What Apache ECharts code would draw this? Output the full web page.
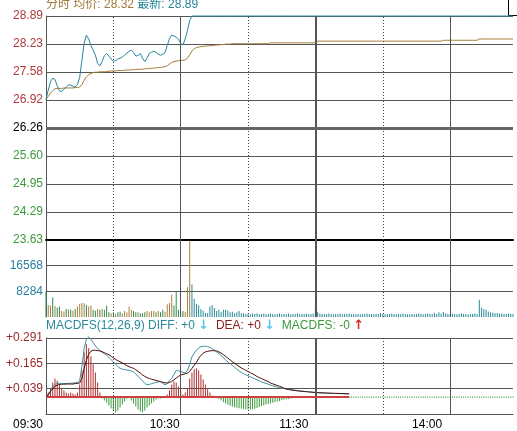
<!DOCTYPE html>
<html>
<head>
<meta charset="utf-8">
<title>分时</title>
<script src="https://cdn.jsdelivr.net/npm/echarts@6/dist/echarts.min.js"></script>
<style>
  html, body { margin: 0; padding: 0; background: #fff; }
  #chart { width: 517px; height: 431px; }
</style>
</head>
<body>
<div id="chart"></div>
<script>
// 纵轴刻度文字
const priceTicks = ['23.63', '24.29', '24.95', '25.60', '26.26', '26.92', '27.58', '28.23', '28.89']
const volTicks = ['', '8284', '16568', '']
const macdTicks = ['', '+0.039', '+0.165', '+0.291']
const timeTicks = ['09:30', '10:30', '11:30', '14:00']
const headAvg = '28.32'
const headLast = '28.89'

// 分时价格 (每分钟)
const priceVals = [
  26.93, 27.15, 27.35, 27.43, 27.40, 27.25, 27.13, 27.12, 27.17, 27.22,
  27.27, 27.27, 27.24, 27.22, 27.28, 27.45, 27.85, 28.25, 28.44, 28.35,
  28.20, 28.09, 27.97, 27.78, 27.72, 27.82, 27.96, 28.01, 27.95, 27.88,
  27.83, 27.84, 27.88, 27.90, 27.93, 27.97, 28.02, 28.06, 28.09, 28.03,
  27.95, 27.96, 28.01, 27.90, 27.82, 27.90, 28.01, 28.04, 28.06, 28.04,
  27.99, 27.97, 27.99, 28.03, 28.20, 28.36, 28.44, 28.42, 28.39, 28.35,
  28.24, 28.21, 28.35, 28.55, 28.78, 28.89, 28.89, 28.89, 28.89, 28.89,
  28.89, 28.89, 28.89, 28.89, 28.89, 28.89, 28.89, 28.89, 28.89, 28.89,
  28.89, 28.89, 28.89, 28.89, 28.89, 28.89, 28.89, 28.89, 28.89, 28.89,
  28.89, 28.89, 28.89, 28.89, 28.89, 28.89, 28.89, 28.89, 28.89, 28.89,
  28.89, 28.89, 28.89, 28.89, 28.89, 28.89, 28.89, 28.89, 28.89, 28.89,
  28.89, 28.89, 28.89, 28.89, 28.89, 28.89, 28.89, 28.89, 28.89, 28.89,
  28.89, 28.89, 28.89, 28.89, 28.89, 28.89, 28.89, 28.89, 28.89, 28.89,
  28.89, 28.89, 28.89, 28.89, 28.89, 28.89, 28.89, 28.89, 28.89, 28.89,
  28.89, 28.89, 28.89, 28.89, 28.89, 28.89, 28.89, 28.89, 28.89, 28.89,
  28.89, 28.89, 28.89, 28.89, 28.89, 28.89, 28.89, 28.89, 28.89, 28.89,
  28.89, 28.89, 28.89, 28.89, 28.89, 28.89, 28.89, 28.89, 28.89, 28.89,
  28.89, 28.89, 28.89, 28.89, 28.89, 28.89, 28.89, 28.89, 28.89, 28.89,
  28.89, 28.89, 28.89, 28.89, 28.89, 28.89, 28.89, 28.89, 28.89, 28.89,
  28.89, 28.89, 28.89, 28.89, 28.89, 28.89, 28.89, 28.89, 28.89, 28.89,
  28.89, 28.89, 28.89, 28.89, 28.89, 28.89, 28.89, 28.89, 28.89
]

// 均价
const avgVals = [
  26.93, 27.00, 27.08, 27.14, 27.18, 27.19, 27.19, 27.19, 27.20, 27.20,
  27.20, 27.20, 27.20, 27.21, 27.21, 27.22, 27.28, 27.38, 27.46, 27.51,
  27.54, 27.56, 27.57, 27.57, 27.58, 27.58, 27.58, 27.59, 27.59, 27.60,
  27.60, 27.60, 27.61, 27.61, 27.61, 27.62, 27.62, 27.62, 27.63, 27.63,
  27.63, 27.64, 27.64, 27.64, 27.65, 27.65, 27.66, 27.66, 27.67, 27.67,
  27.68, 27.68, 27.69, 27.70, 27.72, 27.76, 27.80, 27.82, 27.83, 27.84,
  27.85, 27.85, 27.86, 27.90, 27.98, 28.07, 28.12, 28.15, 28.16, 28.17,
  28.18, 28.18, 28.19, 28.19, 28.20, 28.20, 28.21, 28.21, 28.22, 28.22,
  28.23, 28.23, 28.23, 28.24, 28.24, 28.24, 28.24, 28.24, 28.24, 28.24,
  28.24, 28.24, 28.24, 28.24, 28.24, 28.24, 28.24, 28.24, 28.24, 28.24,
  28.26, 28.26, 28.26, 28.26, 28.26, 28.26, 28.26, 28.26, 28.26, 28.26,
  28.26, 28.26, 28.26, 28.26, 28.26, 28.26, 28.26, 28.26, 28.26, 28.26,
  28.26, 28.30, 28.30, 28.30, 28.30, 28.30, 28.30, 28.30, 28.30, 28.30,
  28.30, 28.30, 28.30, 28.30, 28.30, 28.30, 28.30, 28.30, 28.30, 28.30,
  28.30, 28.30, 28.30, 28.30, 28.30, 28.30, 28.30, 28.30, 28.30, 28.30,
  28.30, 28.30, 28.30, 28.30, 28.30, 28.30, 28.30, 28.30, 28.30, 28.30,
  28.30, 28.30, 28.30, 28.30, 28.30, 28.30, 28.30, 28.30, 28.30, 28.30,
  28.30, 28.30, 28.30, 28.30, 28.30, 28.30, 28.30, 28.32, 28.32, 28.32,
  28.32, 28.32, 28.32, 28.32, 28.32, 28.32, 28.32, 28.32, 28.32, 28.32,
  28.32, 28.32, 28.32, 28.35, 28.35, 28.35, 28.35, 28.35, 28.35, 28.35,
  28.35, 28.35, 28.35, 28.35, 28.35, 28.35, 28.35, 28.35, 28.35
]

// 成交量
const volVals = [
  8300, 3900, 3700, 6300, 3600, 3000, 3400, 2000, 1800, 2600,
  2400, 2300, 2000, 2600, 3400, 4200, 4500, 4400, 3900, 3400,
  3700, 2300, 2000, 2600, 2300, 2600, 2300, 3600, 1500, 1200,
  1500, 1000, 1500, 1700, 1200, 1900, 1500, 3400, 2300, 1900,
  1500, 1500, 1200, 1200, 1500, 1900, 1500, 1900, 1900, 1500,
  1900, 1500, 2300, 1700, 4150, 4480, 7200, 3700, 8300, 2300,
  1500, 1900, 1700, 9600, 24650, 10500, 5900, 4300, 3800, 2600,
  2000, 1300, 1300, 3400, 3800, 2900, 1900, 2300, 1500, 2300,
  2300, 2100, 1500, 1700, 1200, 1500, 1900, 1200, 1200, 1000,
  1100, 900, 1100, 1000, 1200, 900, 1000, 1100, 900, 1000,
  1100, 1000, 900, 1000, 1100, 900, 1000, 1000, 1100, 900,
  1000, 1000, 1100, 900, 1000, 1000, 1100, 900, 1000, 1100,
  5000, 1700, 1100, 1000, 900, 1000, 1100, 1000, 900, 1000,
  1000, 1100, 900, 1000, 1000, 1100, 1000, 900, 1000, 1000,
  900, 1000, 1000, 1100, 1000, 1000, 900, 1000, 1000, 1300,
  1000, 900, 1000, 1000, 1100, 1000, 900, 1000, 1000, 1100,
  1000, 900, 1000, 1000, 900, 1000, 1100, 1000, 900, 1000,
  1100, 1000, 1000, 1400, 1000, 1500, 1100, 1600, 1200, 1000,
  1000, 1100, 1000, 900, 1000, 1100, 1000, 1000, 900, 1000,
  1000, 1100, 1000, 5570, 3000, 2500, 2300, 1800, 1500, 1400,
  1200, 1300, 1100, 1100, 1000, 1000, 1100, 1000, 1000
]
// 涨(u) 跌(d) 平/涨停(f)
const volDir = ('duududduud' + 'ududuuuudu' + 'uddududddu' + 'dudduuuuud' +
  'duddduuuud' + 'udduuuuddd' + 'uduuu').padEnd(volVals.length, 'f')

// MACD 柱
const macdVals = [
  0, 0.02, 0.04, 0.07, 0.09, 0.08, 0.06, 0.04, 0.03, 0.02,
  0.015, 0.02, 0.015, 0.01, 0.02, 0.06, 0.13, 0.22, 0.26, 0.24,
  0.20, 0.16, 0.12, 0.07, 0.02, -0.01, -0.02, -0.03, -0.045, -0.06,
  -0.07, -0.078, -0.07, -0.055, -0.04, -0.025, -0.01, -0.005, -0.02, -0.035,
  -0.05, -0.065, -0.075, -0.078, -0.07, -0.055, -0.045, -0.035, -0.025, -0.015,
  -0.01, -0.01, -0.008, -0.005, 0.01, 0.03, 0.06, 0.075, 0.07, 0.05,
  0.03, 0.01, 0.02, 0.04, 0.09, 0.12, 0.135, 0.14, 0.13, 0.11,
  0.085, 0.06, 0.04, 0.02, 0.005, -0.003, -0.004, -0.012, -0.02, -0.028,
  -0.035, -0.041, -0.046, -0.05, -0.053, -0.056, -0.058, -0.061, -0.063, -0.065,
  -0.065, -0.065, -0.064, -0.061, -0.057, -0.052, -0.047, -0.043, -0.04, -0.037,
  -0.034, -0.031, -0.028, -0.025, -0.022, -0.019, -0.016, -0.014, -0.012, -0.01,
  -0.008, -0.006, -0.005, -0.004, -0.006, -0.006, -0.006, -0.006, -0.006, -0.006,
  -0.006, -0.006, -0.006, -0.006, -0.006, -0.006, -0.006, -0.006, -0.006, -0.006,
  -0.006, -0.006, -0.006, -0.006, -0.006, -0.006, -0.006, -0.006, -0.006, -0.006,
  -0.006, -0.006, -0.006, -0.006, -0.006, -0.006, -0.006, -0.006, -0.006, -0.006,
  -0.006, -0.006, -0.006, -0.006, -0.006, -0.006, -0.006, -0.006, -0.006, -0.006,
  -0.006, -0.006, -0.006, -0.006, -0.006, -0.006, -0.006, -0.006, -0.006, -0.006,
  -0.006, -0.006, -0.006, -0.006, -0.006, -0.006, -0.006, -0.006, -0.006, -0.006,
  -0.006, -0.006, -0.006, -0.006, -0.006, -0.006, -0.006, -0.006, -0.006, -0.006,
  -0.006, -0.006, -0.006, -0.006, -0.006, -0.006, -0.006, -0.006, -0.006, -0.006,
  -0.006, -0.006, -0.006, -0.006, -0.006, -0.006, -0.006, -0.006, -0.006
]

// DIFF
const diffVals = [
  0.000, 0.009, 0.030, 0.050, 0.060, 0.066, 0.066, 0.064, 0.063, 0.064,
  0.065, 0.066, 0.067, 0.068, 0.070, 0.078, 0.150, 0.240, 0.285, 0.296,
  0.285, 0.268, 0.252, 0.238, 0.228, 0.220, 0.212, 0.205, 0.195, 0.183,
  0.172, 0.160, 0.149, 0.140, 0.136, 0.134, 0.132, 0.130, 0.127, 0.123,
  0.112, 0.100, 0.090, 0.078, 0.066, 0.058, 0.060, 0.064, 0.067, 0.070,
  0.073, 0.074, 0.066, 0.058, 0.065, 0.080, 0.090, 0.110, 0.130, 0.128,
  0.124, 0.120, 0.116, 0.130, 0.160, 0.197, 0.215, 0.230, 0.242, 0.248,
  0.250, 0.250, 0.248, 0.244, 0.238, 0.230, 0.222, 0.214, 0.204, 0.193,
  0.182, 0.172, 0.163, 0.154, 0.145, 0.136, 0.127, 0.120, 0.114, 0.108,
  0.103, 0.098, 0.093, 0.088, 0.083, 0.078, 0.073, 0.069, 0.065, 0.061,
  0.057, 0.053, 0.050, 0.047, 0.045, 0.042, 0.040, 0.038, 0.036, 0.034,
  0.033, 0.031, 0.030, 0.028, 0.027, 0.025, 0.024, 0.023, 0.022, 0.021,
  0.020, 0.019, 0.018, 0.018, 0.017, 0.017, 0.016, 0.016, 0.015, 0.015,
  0.015, 0.014, 0.014, 0.014, 0.013, 0.013
]

// DEA
const deaVals = [
  0.000, 0.009, 0.025, 0.040, 0.050, 0.057, 0.060, 0.061, 0.062, 0.062,
  0.062, 0.062, 0.062, 0.064, 0.065, 0.067, 0.090, 0.140, 0.181, 0.210,
  0.225, 0.230, 0.230, 0.228, 0.227, 0.223, 0.218, 0.213, 0.208, 0.200,
  0.192, 0.185, 0.178, 0.173, 0.167, 0.160, 0.154, 0.148, 0.144, 0.140,
  0.133, 0.125, 0.117, 0.107, 0.100, 0.094, 0.090, 0.086, 0.083, 0.080,
  0.077, 0.074, 0.071, 0.068, 0.067, 0.070, 0.076, 0.083, 0.092, 0.100,
  0.107, 0.110, 0.113, 0.116, 0.125, 0.140, 0.155, 0.170, 0.190, 0.205,
  0.215, 0.222, 0.225, 0.227, 0.228, 0.228, 0.227, 0.222, 0.216, 0.209,
  0.200, 0.191, 0.182, 0.173, 0.165, 0.157, 0.149, 0.142, 0.136, 0.130,
  0.124, 0.118, 0.113, 0.107, 0.099, 0.094, 0.089, 0.084, 0.079, 0.074,
  0.067, 0.063, 0.059, 0.055, 0.051, 0.047, 0.041, 0.037, 0.035, 0.033,
  0.031, 0.030, 0.028, 0.027, 0.026, 0.025, 0.024, 0.023, 0.022, 0.021,
  0.020, 0.019, 0.019, 0.018, 0.018, 0.017, 0.017, 0.016, 0.016, 0.016,
  0.015, 0.015, 0.015, 0.014, 0.014, 0.014
]

// 时间轴 09:30-11:30, 13:01-...
const cats = []
const pad = n => (n < 10 ? '0' : '') + n
for (let m = 9 * 60 + 30; m <= 11 * 60 + 30; m++) cats.push(pad(Math.floor(m / 60)) + ':' + pad(m % 60))
for (let m = 13 * 60 + 1; cats.length < priceVals.length; m++) cats.push(pad(Math.floor(m / 60)) + ':' + pad(m % 60))

const FONT = '"Liberation Sans", Arial, "Noto Sans CJK SC", sans-serif'
const TEAL = '#22879a'
const BROWN = '#a47c36'
const GRID_C = '#555'
const volColor = { u: '#a8823c', d: '#2f8a52', f: '#2a8a9a' }

const chart = echarts.init(document.getElementById('chart'))

// 竖线: 整点实线, 半点虚线
const dotted = { type: [1, 2], color: '#444', width: 1 }
const solid = { type: 'solid', color: GRID_C, width: 1 }
const vLines = [
  { xAxis: cats[30], lineStyle: dotted },
  { xAxis: cats[60], lineStyle: solid },
  { xAxis: cats[90], lineStyle: dotted },
  { xAxis: cats[120], lineStyle: { type: 'solid', color: GRID_C, width: 2 } },
  { xAxis: cats[150], lineStyle: dotted },
  { xAxis: cats[180], lineStyle: solid }
]
const mark = extra => ({
  silent: true,
  symbol: 'none',
  animation: false,
  label: { show: false },
  emphasis: { disabled: true },
  data: vLines.concat(extra || [])
})

const labelFont = { fontSize: 12, fontFamily: FONT }
const timeIdx = [0, 60, 120, 180]
const timePad = [3, 1, 7, 8]

const option = {
  animation: false,
  grid: [
    { left: 46, top: 16, width: 467, height: 224, outerBoundsMode: 'none' },
    { left: 46, top: 240, width: 467, height: 77, outerBoundsMode: 'none' },
    { left: 46, top: 338, width: 467, height: 76, outerBoundsMode: 'none' }
  ],
  xAxis: [
    {
      gridIndex: 0, type: 'category', data: cats, boundaryGap: false,
      axisLine: { show: true, onZero: false, lineStyle: { color: '#000', width: 2 } },
      axisTick: { show: false }, axisLabel: { show: false }, splitLine: { show: false }
    },
    {
      gridIndex: 1, type: 'category', data: cats, boundaryGap: false,
      axisLine: { show: false }, axisTick: { show: false },
      axisLabel: { show: false }, splitLine: { show: false }
    },
    {
      gridIndex: 2, type: 'category', data: cats, boundaryGap: false,
      axisLine: { show: true, onZero: false, lineStyle: { color: GRID_C, width: 1 } },
      axisTick: { show: false }, splitLine: { show: false },
      axisLabel: {
        ...labelFont, color: '#000', align: 'right', margin: 5,
        interval: i => timeIdx.includes(i),
        formatter: (v, i) => {
          const k = timeIdx.indexOf(i)
          return k < 0 ? '' : '{p' + k + '|' + timeTicks[k] + '}'
        },
        rich: Object.fromEntries(timePad.map((p, k) => ['p' + k, { ...labelFont, color: '#000', padding: [0, p, 0, 0] }]))
      }
    }
  ],
  yAxis: [
    {
      gridIndex: 0, type: 'value', min: 0, max: 8, interval: 1,
      axisLine: { show: true, lineStyle: { color: GRID_C } },
      axisTick: { show: false },
      splitLine: { show: true, lineStyle: { color: GRID_C, width: 1 } },
      axisLabel: {
        ...labelFont, margin: 3,
        formatter: v => {
          const i = Math.round(v)
          const s = i > 4 ? 'up' : (i === 4 ? 'mid' : 'dn')
          return '{' + s + '|' + priceTicks[i] + '}'
        },
        rich: {
          up: { ...labelFont, color: '#b03a3e' },
          mid: { ...labelFont, color: '#000' },
          dn: { ...labelFont, color: '#3a9a3a' }
        }
      }
    },
    {
      gridIndex: 0, type: 'value', show: false,
      min: Number(priceTicks[0]), max: Number(priceTicks[priceTicks.length - 1]),
      splitLine: { show: false }
    },
    {
      gridIndex: 1, type: 'value', min: 0, max: 24852, interval: 8284,
      axisLine: { show: true, lineStyle: { color: GRID_C } },
      axisTick: { show: false },
      splitLine: { show: true, showMinLine: false, showMaxLine: false, lineStyle: { color: GRID_C, width: 1 } },
      axisLabel: {
        ...labelFont, margin: 3, color: '#2a7f9f',
        formatter: v => volTicks[Math.round(v / 8284)]
      }
    },
    {
      gridIndex: 2, type: 'value', min: 0, max: 3, interval: 1,
      axisLine: { show: true, lineStyle: { color: GRID_C } },
      axisTick: { show: false },
      splitLine: { show: true, showMinLine: false, lineStyle: { color: GRID_C, width: 1 } },
      axisLabel: {
        ...labelFont, margin: 3, color: '#9b2b2b',
        formatter: v => macdTicks[Math.round(v)]
      }
    },
    {
      gridIndex: 2, type: 'value', show: false, min: -0.087, max: 0.291,
      splitLine: { show: false }
    }
  ],
  series: [
    {
      name: '均价', type: 'line', xAxisIndex: 0, yAxisIndex: 1,
      data: avgVals, showSymbol: false, silent: true,
      lineStyle: { color: BROWN, width: 1 },
      markLine: mark([{ yAxis: 26.26, lineStyle: { type: 'solid', color: '#666', width: 3 } }])
    },
    {
      name: '最新', type: 'line', xAxisIndex: 0, yAxisIndex: 1,
      data: priceVals, showSymbol: false, silent: true, clip: false,
      lineStyle: { color: TEAL, width: 1 }
    },
    {
      name: '成交量', type: 'bar', xAxisIndex: 1, yAxisIndex: 2, barWidth: 1, silent: true,
      data: volVals.map((v, i) => ({ value: v, itemStyle: { color: volColor[volDir[i]] } })),
      markLine: mark()
    },
    {
      name: 'MACDFS', type: 'bar', xAxisIndex: 2, yAxisIndex: 4, barWidth: 1, silent: true,
      data: macdVals.map(v => ({ value: v, itemStyle: { color: v >= 0 ? '#b03030' : '#3d9a3a' } })),
      markLine: mark([[
        { coord: [cats[0], 0], lineStyle: { type: 'solid', color: '#cc4040', width: 2 } },
        { coord: [cats[135], 0] }
      ]])
    },
    {
      name: 'DIFF', type: 'line', xAxisIndex: 2, yAxisIndex: 4,
      data: diffVals, showSymbol: false, silent: true, clip: false,
      lineStyle: { color: '#3a8f9f', width: 1 }
    },
    {
      name: 'DEA', type: 'line', xAxisIndex: 2, yAxisIndex: 4,
      data: deaVals, showSymbol: false, silent: true, clip: false,
      lineStyle: { color: '#4a0c0c', width: 1 }
    }
  ],
  graphic: [
    {
      type: 'text', x: 46, y: 5, silent: true,
      style: {
        text: '{b|分时 均价: ' + headAvg + '} {t|最新: ' + headLast + '}',
        verticalAlign: 'middle', font: '12px ' + FONT,
        rich: {
          b: { fill: '#a07a36', fontSize: 12, fontFamily: FONT },
          t: { fill: TEAL, fontSize: 12, fontFamily: FONT }
        }
      }
    },
    {
      type: 'text', x: 46, y: 326, silent: true,
      style: {
        text: '{t|MACDFS(12,26,9) DIFF: +0 }{c|↓}{t|  }{r|DEA: +0 }{c|↓}{t|  }{g|MACDFS: -0 }{a|↑}',
        verticalAlign: 'middle', font: '12px ' + FONT,
        rich: {
          t: { fill: '#2a8a9c', fontSize: 12, fontFamily: FONT },
          r: { fill: '#8b1a1a', fontSize: 12, fontFamily: FONT },
          g: { fill: '#3a9a3a', fontSize: 12, fontFamily: FONT },
          c: { fill: '#5cc6e8', fontSize: 13, fontWeight: 'bold', fontFamily: 'DejaVu Sans' },
          a: { fill: '#d03030', fontSize: 13, fontWeight: 'bold', fontFamily: 'DejaVu Sans' }
        }
      }
    },
    {
      type: 'polyline', silent: true,
      shape: { points: [[508.5, 0], [508.5, 15.5], [517, 15.5]] },
      style: { stroke: '#000', lineWidth: 1, fill: null }
    }
  ]
}

chart.setOption(option)
</script>
</body>
</html>
